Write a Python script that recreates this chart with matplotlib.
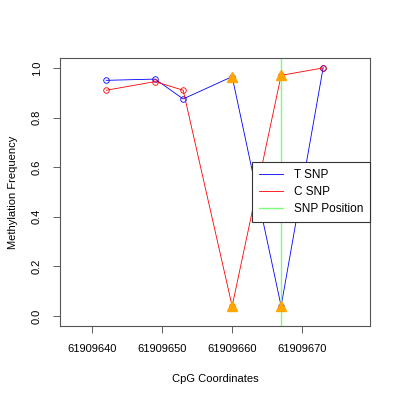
import matplotlib
matplotlib.use("Agg")
import matplotlib.pyplot as plt
from matplotlib.lines import Line2D

x_pos = [61909642, 61909649, 61909653, 61909660, 61909667, 61909673]
t_snp = [0.95, 0.955, 0.875, 0.965, 0.04, 1.0]
c_snp = [0.91, 0.945, 0.91, 0.04, 0.97, 1.0]
snp_x = [61909660, 61909660, 61909667, 61909667]
snp_y = [0.965, 0.04, 0.97, 0.04]
snp_line = 61909667
xticks = [61909640, 61909650, 61909660, 61909670]
yticks = [0.0, 0.2, 0.4, 0.6, 0.8, 1.0]

plt.rcParams['font.family'] = ['Liberation Sans', 'DejaVu Sans']
fig = plt.figure(figsize=(4, 4), dpi=100)
ax = fig.add_axes([0.15, 0.185, 0.775, 0.67])

ax.plot(x_pos, t_snp, color='blue', lw=0.6, marker='o', mfc='none', ms=4, mew=0.6)
ax.plot(x_pos, c_snp, color='red', lw=0.6, marker='o', mfc='none', ms=4, mew=0.6)
ax.axvline(snp_line, color='#7cfc7c', lw=1)
ax.plot(snp_x, snp_y, ls='none', marker='^', color='orange', ms=6.5, zorder=5)

ax.set_xlim(61909635.4, 61909679.7)
ax.set_ylim(-0.04, 1.04)
ax.set_xticks(xticks)
ax.set_xticklabels([str(v) for v in xticks], fontsize=8)
ax.set_yticks(yticks)
ax.set_yticklabels([f"{v:.1f}" for v in yticks], fontsize=8, rotation=90, va='center')
ax.tick_params(length=5, width=0.6, color='#444444', pad=8)
for s in ax.spines.values():
    s.set_linewidth(0.8)
    s.set_color('#555555')

ax.set_xlabel('CpG Coordinates', fontsize=8, labelpad=14)
ax.set_ylabel('Methylation Frequency', fontsize=8, labelpad=10)

handles = [Line2D([], [], color='blue', lw=0.6),
           Line2D([], [], color='red', lw=0.6),
           Line2D([], [], color='#7cfc7c', lw=1)]
leg = ax.legend(handles, ['T SNP', 'C SNP', 'SNP Position'], loc='center right',
                fontsize=8.5, frameon=True, fancybox=False, framealpha=1,
                borderaxespad=0, handlelength=2.0, handletextpad=0.9,
                borderpad=0.6, labelspacing=0.45)
leg.set_zorder(10)
leg.get_frame().set_edgecolor('#333333')
leg.get_frame().set_linewidth(0.8)

fig.savefig('out.png', dpi=100)
